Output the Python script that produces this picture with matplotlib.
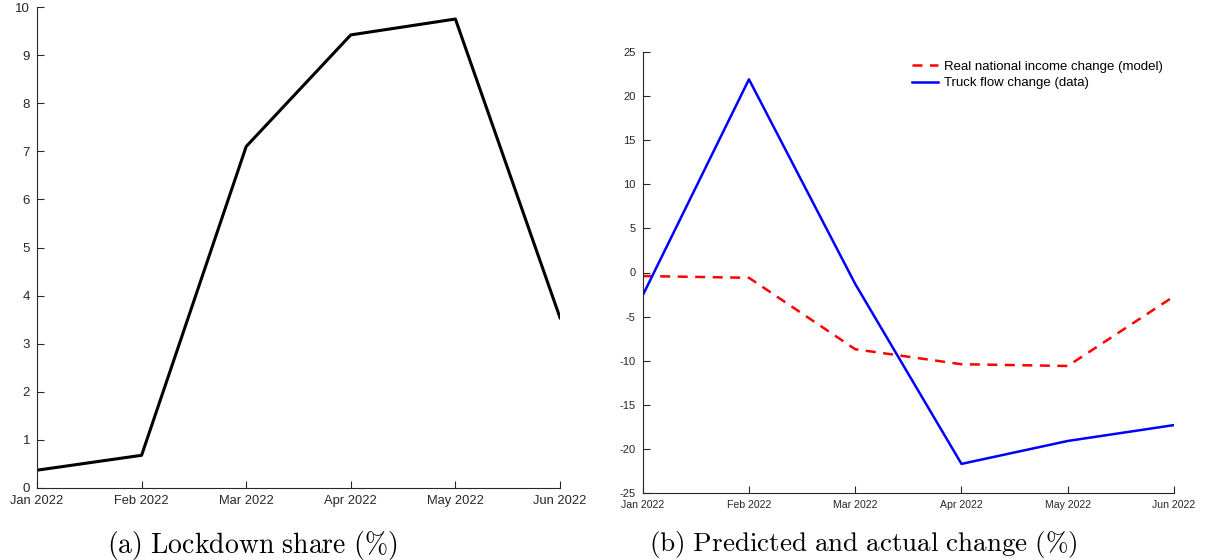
import matplotlib.pyplot as plt

plt.rcParams['font.family'] = ['Liberation Sans', 'DejaVu Sans']
plt.rcParams['mathtext.fontset'] = 'cm'
plt.rcParams['axes.unicode_minus'] = False

months = ['Jan 2022', 'Feb 2022', 'Mar 2022', 'Apr 2022', 'May 2022', 'Jun 2022']
lockdown_share = [0.37, 0.68, 7.1, 9.42, 9.75, 3.54]
income_change = [-0.4, -0.6, -8.7, -10.4, -10.6, -2.7]
truck_change = [-2.6, 21.9, -1.3, -21.7, -19.1, -17.3]

x = list(range(len(months)))
axcol = '#262626'

fig = plt.figure(figsize=(12.1, 5.6), dpi=100)


def style_axes(ax, xsize, ysize):
    for s in ['top', 'right']:
        ax.spines[s].set_visible(False)
    for s in ['left', 'bottom']:
        ax.spines[s].set_color(axcol)
        ax.spines[s].set_linewidth(0.8)
    ax.tick_params(direction='in', length=5, width=0.8, colors=axcol, pad=5)
    ax.tick_params(axis='x', labelsize=xsize)
    ax.tick_params(axis='y', labelsize=ysize)
    ax.set_xticks(x)
    ax.set_xticklabels(months)


# (a) lockdown share
ax1 = fig.add_axes([37 / 1210, 72 / 560, 523 / 1210, 481 / 560])
ax1.plot(x, lockdown_share, color='black', lw=2.2)
ax1.set_xlim(0, 5)
ax1.set_ylim(0, 10)
ax1.set_yticks(range(0, 11))
style_axes(ax1, 9.3, 9.5)

# (b) predicted vs actual
ax2 = fig.add_axes([642.7 / 1210, 67 / 560, 531.3 / 1210, 441 / 560])
ax2.plot(x, income_change, color='red', ls=(0, (4, 3)), lw=1.8,
         label='Real national income change (model)')
ax2.plot(x, truck_change, color='blue', lw=1.8,
         label='Truck flow change (data)')
ax2.set_xlim(0, 5)
ax2.set_ylim(-25, 25)
ax2.set_yticks(range(-25, 26, 5))
style_axes(ax2, 7.6, 8)
ax2.legend(loc='upper left', bbox_to_anchor=(0.507, 0.98), frameon=False,
           fontsize=9.5, handlelength=2.0, handletextpad=0.4, labelspacing=0.3,
           borderpad=0, borderaxespad=0)

fig.text(252 / 1210, 1 - 545 / 560, r'$\mathrm{(a)\ Lockdown\ share\ (\%)}$',
         ha='center', va='center', fontsize=20)
fig.text(863 / 1210, 1 - 545 / 560, r'$\mathrm{(b)\ Predicted\ and\ actual\ change\ (\%)}$',
         ha='center', va='center', fontsize=19.5)

fig.savefig('out.png', dpi=100)
